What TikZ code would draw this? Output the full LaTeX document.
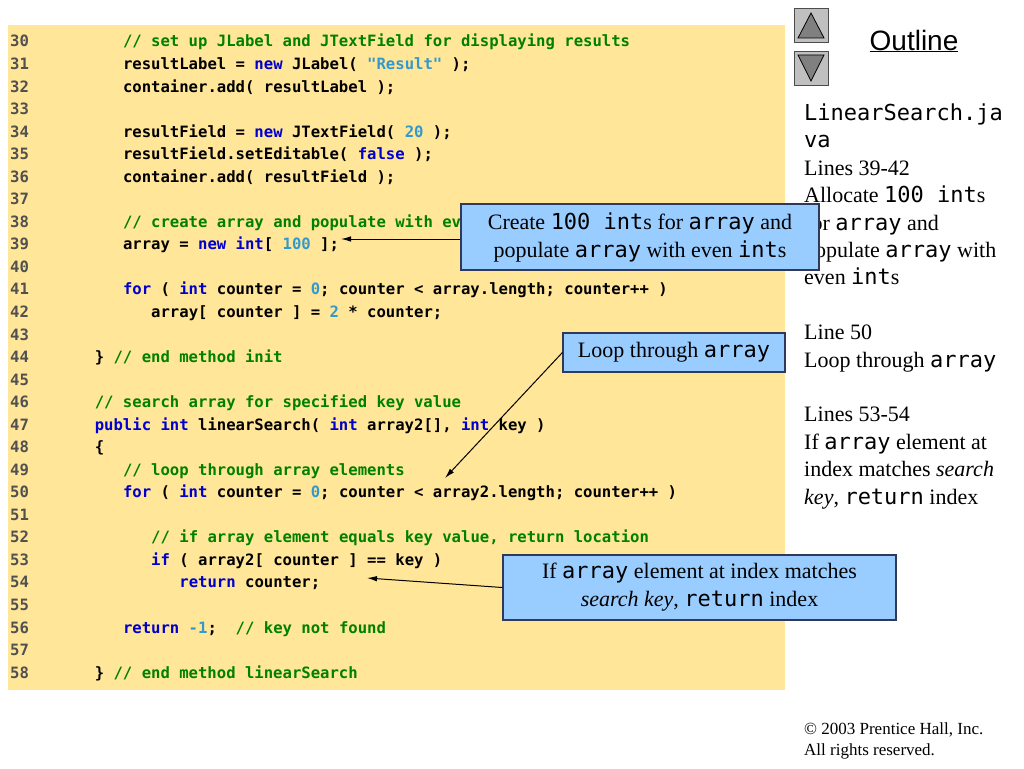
\documentclass[tikz,border=0pt]{standalone}
\usepackage{fontspec}
\setmainfont{Liberation Serif}
\setmonofont{DejaVu Sans Mono}
\newfontfamily\outlinefont{Liberation Sans}
\usetikzlibrary{arrows.meta}

\definecolor{codebg}{HTML}{FFE699}
\definecolor{calloutfill}{HTML}{99CCFF}
\definecolor{calloutline}{HTML}{2F3A5A}
\definecolor{kwblue}{HTML}{0000CC}
\definecolor{litblue}{HTML}{3399CC}
\definecolor{cmtgreen}{HTML}{008000}
\definecolor{lnogray}{HTML}{505050}
\definecolor{btnfill}{HTML}{C0C0C0}
\definecolor{btntri}{HTML}{808080}

\newcommand\kw[1]{\textcolor{kwblue}{#1}}
\newcommand\lit[1]{\textcolor{litblue}{#1}}
\newcommand\cmt[1]{\textcolor{cmtgreen}{#1}}
\newcommand\lno[1]{\makebox[84.6pt][l]{\textcolor{lnogray}{#1}}}
\newcommand\tab{\hspace*{28.2pt}}
\newcommand\mono[1]{{\ttfamily\mdseries #1}}

\tikzset{
  codeline/.style={anchor=base west, inner sep=0pt,
    font=\fontsize{15.6}{22}\selectfont\ttfamily\bfseries},
  callout/.style={draw=calloutline, fill=calloutfill, line width=1.2pt,
    align=center, inner sep=0pt, font=\fontsize{22}{28}\selectfont},
  pointer/.style={-{Latex[length=10pt,width=5.5pt]}, line width=1pt},
  sidenote/.style={anchor=base west, inner sep=0pt, align=left,
    font=\fontsize{22}{27.4}\selectfont},
  button/.style={draw=black!70, fill=btnfill, line width=0.8pt,
    minimum size=34pt, inner sep=0pt},
}

\begin{document}
\begin{tikzpicture}[x=1pt,y=-1pt]
  \useasboundingbox (0,0) rectangle (1024,768);
  % code listing
  \fill[codebg] (8,25) rectangle (785,690);
  \node[codeline] (l30) at (10,47)     {\lno{30}\tab\cmt{// set up JLabel and JTextField for displaying results}};
  \node[codeline] (l31) at (10,69.54)  {\lno{31}\tab resultLabel = \kw{new} JLabel( \lit{"Result"} );};
  \node[codeline] (l32) at (10,92.08)  {\lno{32}\tab container.add( resultLabel );};
  \node[codeline] (l33) at (10,114.62) {\lno{33}};
  \node[codeline] (l34) at (10,137.16) {\lno{34}\tab resultField = \kw{new} JTextField( \lit{20} );};
  \node[codeline] (l35) at (10,159.7)  {\lno{35}\tab resultField.setEditable( \kw{false} );};
  \node[codeline] (l36) at (10,182.24) {\lno{36}\tab container.add( resultField );};
  \node[codeline] (l37) at (10,204.78) {\lno{37}};
  \node[codeline] (l38) at (10,227.32) {\lno{38}\tab\cmt{// create array and populate with even integers}};
  \node[codeline] (l39) at (10,249.86) {\lno{39}\tab array = \kw{new} \kw{int}[ \lit{100} ];};
  \node[codeline] (l40) at (10,272.4)  {\lno{40}};
  \node[codeline] (l41) at (10,294.94) {\lno{41}\tab\kw{for} ( \kw{int} counter = \lit{0}; counter < array.length; counter++ )};
  \node[codeline] (l42) at (10,317.48) {\lno{42}\tab\tab array[ counter ] = \lit{2} * counter;};
  \node[codeline] (l43) at (10,340.02) {\lno{43}};
  \node[codeline] (l44) at (10,362.56) {\lno{44}\} \cmt{// end method init}};
  \node[codeline] (l45) at (10,385.1)  {\lno{45}};
  \node[codeline] (l46) at (10,407.64) {\lno{46}\cmt{// search array for specified key value}};
  \node[codeline] (l47) at (10,430.18) {\lno{47}\kw{public} \kw{int} linearSearch( \kw{int} array2[], \kw{int} key )};
  \node[codeline] (l48) at (10,452.72) {\lno{48}\{};
  \node[codeline] (l49) at (10,475.26) {\lno{49}\tab\cmt{// loop through array elements}};
  \node[codeline] (l50) at (10,497.8)  {\lno{50}\tab\kw{for} ( \kw{int} counter = \lit{0}; counter < array2.length; counter++ )};
  \node[codeline] (l51) at (10,520.34) {\lno{51}};
  \node[codeline] (l52) at (10,542.88) {\lno{52}\tab\tab\cmt{// if array element equals key value, return location}};
  \node[codeline] (l53) at (10,565.42) {\lno{53}\tab\tab\kw{if} ( array2[ counter ] == key )};
  \node[codeline] (l54) at (10,587.96) {\lno{54}\tab\tab\tab\kw{return} counter;};
  \node[codeline] (l55) at (10,610.5)  {\lno{55}};
  \node[codeline] (l56) at (10,633.04) {\lno{56}\tab\kw{return} \lit{-1};\ \ \cmt{// key not found}};
  \node[codeline] (l57) at (10,655.58) {\lno{57}};
  \node[codeline] (l58) at (10,678.12) {\lno{58}\} \cmt{// end method linearSearch}};
  % outline column
  \node[button] (upbtn) at (811,25) {};
  \node[button] (downbtn) at (811,68) {};
  \draw[fill=btntri, line width=0.8pt] (811,13) -- (798,38) -- (824,38) -- cycle;
  \draw[fill=btntri, line width=0.8pt] (798,55) -- (824,55) -- (811,81) -- cycle;
  \node[font=\fontsize{28}{30}\selectfont\outlinefont] (outline) at (914,41) {\underline{Outline}};
  \node[sidenote] (notes) at (804,504) {\mono{LinearSearch.ja}\\
    \mono{va}\\
    Lines 39-42\\
    Allocate \mono{100 int}s\\
    for \mono{array} and\\
    populate \mono{array} with\\
    even \mono{int}s\\
    \mbox{}\\
    Line 50\\
    Loop through \mono{array}\\
    \mbox{}\\
    Lines 53-54\\
    If \mono{array} element at\\
    index matches \emph{search}\\
    \emph{key}, \mono{return} index};
  \node[anchor=base west, inner sep=0pt, align=left, font=\fontsize{17}{21}\selectfont] (copyright) at (804,755)
    {\textcopyright{} 2003 Prentice Hall, Inc.\\All rights reserved.};
  % callouts
  \node[callout, minimum width=358pt, minimum height=66pt] (create) at (640,237)
    {Create \mono{100 int}s for \mono{array} and\\populate \mono{array} with even \mono{int}s};
  \node[callout, minimum width=222pt, minimum height=39pt] (loop) at (674,352.5)
    {Loop through \mono{array}};
  \node[callout, minimum width=393pt, minimum height=65pt] (match) at (699.5,587.5)
    {If \mono{array} element at index matches\\\emph{search key}, \mono{return} index};
  \coordinate (createtip) at (341,239);
  \coordinate (looptip) at (445,478);
  \coordinate (matchtip) at (367,578);
  \draw[pointer] (createtip -| create.west) -- (createtip);
  \draw[pointer] (loop.west) -- (looptip);
  \draw[pointer] (match.west) -- (matchtip);
\end{tikzpicture}
\end{document}
